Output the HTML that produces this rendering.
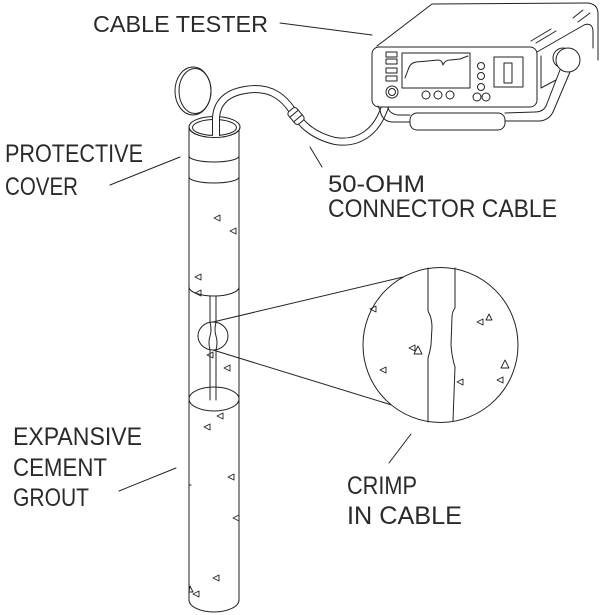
<!DOCTYPE html>
<html><head><meta charset="utf-8">
<style>
html,body{margin:0;padding:0;background:#fff;}
svg{display:block;}
text{font-family:"Liberation Sans",sans-serif;fill:#2a2a2a;}
</style></head>
<body>
<svg width="600" height="615" viewBox="0 0 600 615" xmlns="http://www.w3.org/2000/svg">
<rect width="600" height="615" fill="#fff"/>
<g fill="none" stroke="#222" stroke-width="1" stroke-linecap="round" stroke-linejoin="round">

<!-- leader lines -->
<line x1="280" y1="23" x2="372" y2="35"/>
<line x1="110" y1="185" x2="180" y2="157"/>
<line x1="310" y1="147" x2="322" y2="167"/>
<line x1="119" y1="491" x2="176" y2="468"/>
<line x1="389" y1="463" x2="411" y2="434"/>

<!-- lid -->
<ellipse cx="193" cy="91" rx="18" ry="24"/>
<ellipse cx="195" cy="91" rx="16" ry="22.5"/>

<!-- pipe -->
<line x1="189" y1="127" x2="189" y2="600"/>
<line x1="239" y1="127" x2="239" y2="600"/>
<path d="M189,600 A25,12 0 0 0 239,600"/>
<ellipse cx="214.5" cy="127" rx="25.5" ry="10.5" fill="#fff"/>
<ellipse cx="214.5" cy="127.5" rx="22" ry="8"/>
<path d="M189,156 A25,6 0 0 0 239,156"/>
<path d="M189,177 A25,6 0 0 0 239,177"/>
<path d="M189,287 A25,9 0 0 0 239,287"/>
<line x1="189" y1="485" x2="191" y2="485"/>

<!-- cable in pipe gap -->
<line x1="210" y1="296" x2="210" y2="322"/>
<line x1="216" y1="296" x2="216" y2="322"/>
<line x1="210" y1="350" x2="210" y2="400"/>
<line x1="216" y1="350" x2="216" y2="400"/>
<path d="M210,322 Q212,330 210,336 Q208,342 210,350"/>
<path d="M216,322 Q214,330 216,336 Q218,342 216,350"/>
<ellipse cx="213" cy="336" rx="15" ry="14"/>
<ellipse cx="214" cy="399" rx="25" ry="12"/>

<!-- tangent lines -->
<line x1="213" y1="322" x2="403" y2="277"/>
<line x1="213" y1="350" x2="395" y2="406"/>

<!-- magnified circle -->
<circle cx="440.5" cy="345" r="77.5" fill="#fff"/>
<path d="M428,268 L428,311 Q432,318 432,327 L431,345 Q430,352 428,358 L428,422"/>
<path d="M455,268 L455,308 Q452,312 452,317 L451,345 Q452,358 455,367 L453,421"/>

<!-- cable -->
<path d="M216,136 L216,118 C217,100 230,90 255,89 C272,89 283,97 292,110 C300,122 310,135 335,141 C360,145 376,130 383,112 L390,94" stroke="#222" stroke-width="8"/>
<path d="M216,138 L216,118 C217,100 230,90 255,89 C272,89 283,97 292,110 C300,122 310,135 335,141 C360,145 376,130 383,112 L390,94" stroke="#fff" stroke-width="6"/>
<ellipse cx="214.5" cy="137" rx="8" ry="1.2" stroke="none" fill="#fff"/>
<path d="M189,127 A25.5,10.5 0 0 0 240,127"/>
<g transform="translate(296,116) rotate(50)">
<rect x="-8" y="-5.5" width="16" height="11" rx="3" fill="#fff"/>
<line x1="-3" y1="-5.5" x2="-3" y2="5.5"/>
<line x1="3" y1="-5.5" x2="3" y2="5.5"/>
</g>

<!-- tester body -->
<path d="M377,46 L432,4 L586,3 Q598,3 598,14 L598,60"/>
<rect x="372" y="47" width="165" height="60" rx="7" fill="#fff"/>
<path d="M537,52 L584,25 Q593,22 593,32 L593,48"/>
<path d="M541,56 L541,88 L556,80"/>
<line x1="531" y1="41" x2="551" y2="29"/>
<line x1="536" y1="43" x2="556" y2="31"/>
<line x1="573" y1="18" x2="583" y2="10"/>
<line x1="578" y1="22" x2="590" y2="13"/>
<!-- buttons -->
<rect x="386" y="52" width="11" height="5"/>
<rect x="386" y="59" width="11" height="5"/>
<rect x="386" y="68" width="11" height="5"/>
<rect x="386" y="76" width="11" height="5"/>
<!-- screen -->
<rect x="402" y="53" width="68" height="35"/>
<path d="M405,78 L408,70 Q410,63 416,62 L428,61 L438,60 Q442,60 443,65 Q445,60 450,60 L460,59 L468,56"/>
<circle cx="426" cy="95" r="4"/>
<circle cx="438" cy="95" r="4"/>
<circle cx="450" cy="95" r="4"/>
<circle cx="481" cy="66" r="3.5"/>
<circle cx="481" cy="76" r="3.5"/>
<circle cx="481" cy="87" r="3.5"/>
<circle cx="477" cy="97" r="4"/>
<circle cx="486" cy="97" r="4"/>
<rect x="494" y="57" width="29" height="30"/>
<rect x="504" y="63" width="8" height="20"/>
<!-- connector -->
<circle cx="392" cy="92" r="6" fill="#fff"/>
<circle cx="392" cy="92" r="3.5"/>
<!-- knob & handle -->
<circle cx="563" cy="58" r="10"/>
<circle cx="568" cy="60" r="12" fill="#fff"/>
<path d="M570,72 L553,112 Q549,120 540,121 L505,121"/>
<path d="M560,70 L546,106 Q543,112 535,112 L505,113"/>
<rect x="410" y="113" width="95" height="17" rx="7" fill="#fff"/>
<path d="M410,122 L393,122 Q382,122 380,110 L378,106"/>
<path d="M410,115 L398,115 Q390,114 388,108"/>

<!-- aggregate marks -->
<g stroke-width="0.9">
<path d="M214,218 l6,-3 v6 z"/>
<path d="M230,231 l6,-3 v6 z"/>
<path d="M195,277 l6,-3 v6 z"/>
<path d="M195,293 l6,-3 v6 z"/>
<path d="M207,355 l6,-3 v6 z"/>
<path d="M224,368 l6,-3 v6 z"/>
<path d="M217,416 l6,-3 v6 z"/>
<path d="M204,427 l6,-3 v6 z"/>
<path d="M228,477 l6,-3 v6 z"/>
<path d="M233,518 l6,-3 v6 z"/>
<path d="M213,578 l6,-3 v6 z"/>
<path d="M190,586 l3,6 h-4 z"/>
<path d="M193,594 l6,-3 v6 z"/>
<path d="M370,309 l6,-3 v6 z"/>
<path d="M409,348 l6,-3 v6 z"/>
<path d="M414,354 l4,-8 l4,8 z"/>
<path d="M380,370 l6,-3 v6 z"/>
<path d="M477,322 l6,-3 v6 z"/>
<path d="M486,320 l3,-6 l3,6 z"/>
<path d="M501,368 l4,-8 l4,8 z"/>
<path d="M497,380 l6,-3 v6 z"/>
<path d="M457,382 l6,-3 v6 z"/>
</g>
</g>

<!-- labels -->
<text x="93" y="32" font-size="23" textLength="175" lengthAdjust="spacingAndGlyphs">CABLE TESTER</text>
<text x="5" y="162" font-size="25" textLength="138" lengthAdjust="spacingAndGlyphs">PROTECTIVE</text>
<text x="5" y="195" font-size="25" textLength="73" lengthAdjust="spacingAndGlyphs">COVER</text>
<text x="328" y="192" font-size="24" textLength="97" lengthAdjust="spacingAndGlyphs">50-OHM</text>
<text x="328" y="217" font-size="25" textLength="229" lengthAdjust="spacingAndGlyphs">CONNECTOR CABLE</text>
<text x="13" y="445" font-size="25" textLength="129" lengthAdjust="spacingAndGlyphs">EXPANSIVE</text>
<text x="13" y="476" font-size="25" textLength="94" lengthAdjust="spacingAndGlyphs">CEMENT</text>
<text x="13" y="506" font-size="25" textLength="76" lengthAdjust="spacingAndGlyphs">GROUT</text>
<text x="347" y="494" font-size="25" textLength="70" lengthAdjust="spacingAndGlyphs">CRIMP</text>
<text x="347" y="524" font-size="25" textLength="115" lengthAdjust="spacingAndGlyphs">IN CABLE</text>
</svg>
</body></html>
